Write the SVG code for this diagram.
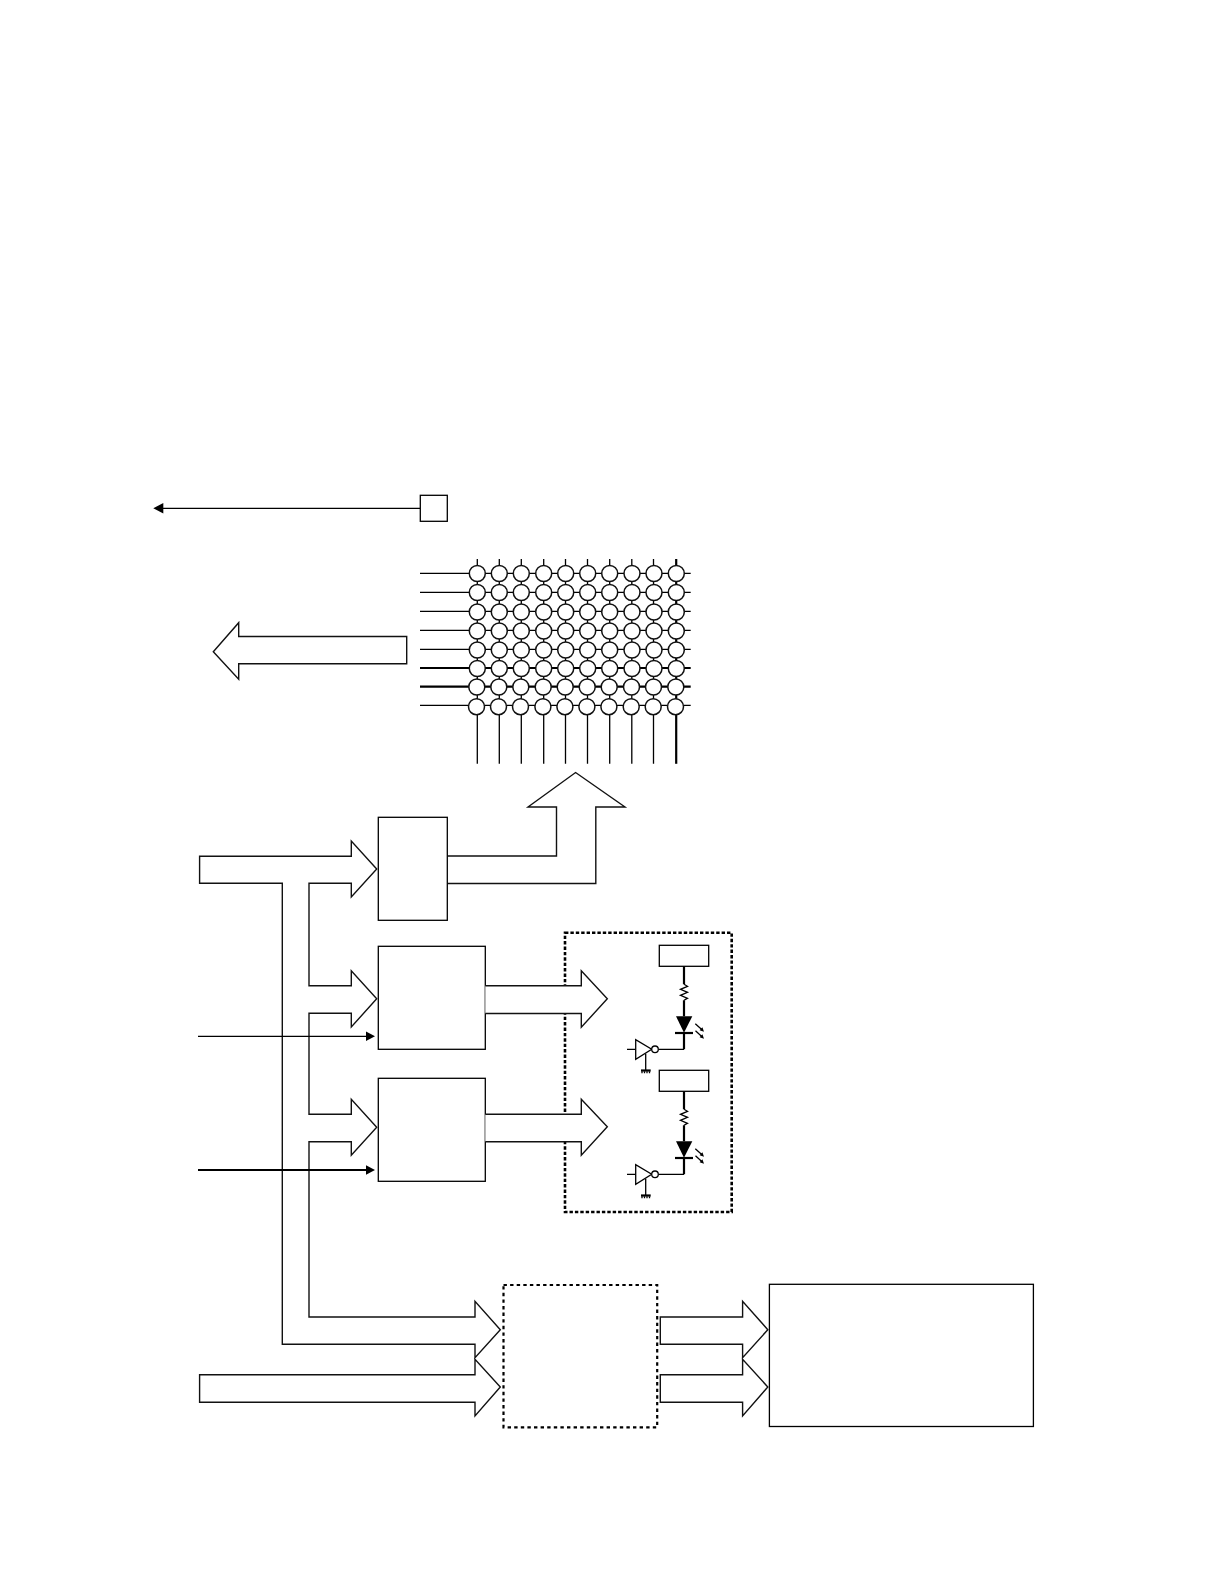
<svg xmlns="http://www.w3.org/2000/svg" xmlns:xlink="http://www.w3.org/1999/xlink" width="1224" height="1584" viewBox="0 0 1224 1584">
<style>
.s{fill:#fff;stroke:#000;stroke-width:1.3}
.b{fill:#fff;stroke:#111;stroke-width:1.4;stroke-linejoin:miter}
.d{fill:none;stroke:#000;stroke-width:2.2;stroke-dasharray:3.4 3.2}
.p{fill:none;stroke:#000;stroke-width:2.6;stroke-dasharray:3.4 2}
.l{fill:none;stroke:#000;stroke-width:1.3}
.t{fill:none;stroke:#000;stroke-width:2.2}
.f{fill:#000;stroke:none}
.c{fill:#fff;stroke:#111;stroke-width:1.5}
</style>
<defs>
<g id="row">
<circle class="c" cx="477.3" cy="0" r="8"/><circle class="c" cx="499.3" cy="0" r="8"/><circle class="c" cx="521.3" cy="0" r="8"/><circle class="c" cx="543.7" cy="0" r="8"/><circle class="c" cx="565.7" cy="0" r="8"/><circle class="c" cx="587.7" cy="0" r="8"/><circle class="c" cx="609.7" cy="0" r="8"/><circle class="c" cx="632" cy="0" r="8"/><circle class="c" cx="654" cy="0" r="8"/><circle class="c" cx="676.3" cy="0" r="8"/>
</g>
<g id="led">
<rect class="s" x="659.3" y="0" width="49.4" height="21"/>
<path class="t" d="M684,21V39M684,55V71M684,87V104"/>
<path class="l" d="M684,39L687.5,41L680.5,44L687.5,47L680.5,50L687.5,53L684,55"/>
<path class="f" d="M676,71H692.3L684,87.5Z"/>
<path class="t" d="M675,87.7H693"/>
<path d="M695.3,78.5L702,84.5M695.5,85.5L702,91.5" class="l"/>
<path class="f" d="M704,86.5L699.6,85L702.4,82ZM704,93.5L699.6,92L702.4,89Z"/>
<path class="l" d="M684,104H658.5M627,104H635.7M645.7,108.5V125"/>
<path class="s" d="M635.7,94.3V114L651.7,104Z"/>
<circle class="s" cx="655" cy="104" r="3.3"/>
<path class="t" stroke-width="1.4" d="M641,125.2H650.7"/>
<path class="l" stroke-width=".7" d="M642,126V128M644.5,126V128M647,126V128M649.5,126V128"/>
</g>
</defs>

<g id="connectors">
<path class="l" d="M420.3,508.3H160"/>
<path class="f" d="M153.3,508.3L163.3,503V513.6Z"/>
</g>

<g id="matrix">
<path class="l" d="M420,573.3H690.7M420,592.3H690.7M420,611.3H690.7M420,630.3H690.7M420,649.3H690.7M420,705.3H690.7"/>
<path class="t" d="M420,668H690.7M420,686.7H690.7"/>
<path class="l" d="M477.3,559V763.8M499.3,559V763.8M521.3,559V763.8M543.7,559V763.8M565.5,559V763.8M587.5,559V763.8M609.7,559V763.8M631.8,559V763.8M653.5,559V763.8"/>
<path class="t" d="M676.2,559V763.8"/>
<use href="#row" xlink:href="#row" x="0" y="573.5"/>
<use href="#row" xlink:href="#row" x="0" y="592.5"/>
<use href="#row" xlink:href="#row" x="0" y="612"/>
<use href="#row" xlink:href="#row" x="0" y="631"/>
<use href="#row" xlink:href="#row" x="0" y="650"/>
<use href="#row" xlink:href="#row" x="0" y="668.5"/>
<use href="#row" xlink:href="#row" x="-0.5" y="687"/>
<use href="#row" xlink:href="#row" x="-0.8" y="706.7"/>
</g>

<g id="pad"><rect class="s" x="420.3" y="495.3" width="27" height="26"/></g>
<g id="arrow-left"><path class="b" d="M406.7,636.5H238.7V622.7L213.3,651.7L238.7,679.3V663.7H406.7Z"/></g>
<g id="arrow-up"><path class="b" d="M447.5,856H556.5V807H528L575.6,772.5L625,807H595.8V883.5H447.5"/></g>

<g id="box-1"><rect class="s" x="378.3" y="817.3" width="69" height="103"/></g>
<g id="box-2"><rect class="s" x="378.3" y="946.3" width="107" height="103"/></g>
<g id="box-3"><rect class="s" x="378.3" y="1078.3" width="107" height="103"/></g>

<g id="led-panel">
<rect class="p" x="565" y="932.7" width="166.7" height="279.3"/>
<use href="#led" xlink:href="#led" x="0" y="945.3"/>
<use href="#led" xlink:href="#led" x="0" y="1070.3"/>
</g>

<g id="arrow-out-2"><path class="b" d="M485.3,985.7H581.3V970.7L607.3,998.7L581.3,1027.3V1013.5H485.3"/></g>
<g id="arrow-out-3"><path class="b" d="M485.3,1114.3H581.3V1099.3L607.3,1126.7L581.3,1155.3V1141.7H485.3"/></g>

<g id="bus"><path class="b" d="M199.6,856.3H351.3V841L376.7,869L351.3,897V883.3H309V985.7H351.3V970.7L376.7,998.7L351.3,1027V1013.3H309V1114.3H351.3V1099.3L376.7,1127.3L351.3,1155.3V1141.7H309V1317H475V1301.3L500.3,1329.7L475,1357.7V1344.3H282.3V883.3H199.6Z"/></g>
<g id="arrow-in-low"><path class="b" d="M199.6,1374.7H475V1359.3L500.3,1387L475,1416V1402.3H199.6Z"/></g>

<g id="control-lines">
<path class="l" d="M198,1036.3H366"/>
<path class="f" d="M375,1036.3L366,1031.6V1041Z"/>
<path class="t" d="M198,1170H366"/>
<path class="f" d="M375,1170L366,1165.3V1174.7Z"/>
</g>

<g id="dashed-block"><rect class="d" x="503.5" y="1285" width="153.7" height="142.3"/></g>
<g id="arrow-r1"><path class="b" d="M660.3,1317H742.6V1301.3L767.8,1329.7L742.6,1357.7V1344.3H660.3Z"/></g>
<g id="arrow-r2"><path class="b" d="M660.3,1374.7H742.6V1359.3L767.8,1387L742.6,1416V1402.3H660.3Z"/></g>
<g id="big-box"><rect class="s" x="769.4" y="1284.3" width="264" height="142.2"/></g>
</svg>
